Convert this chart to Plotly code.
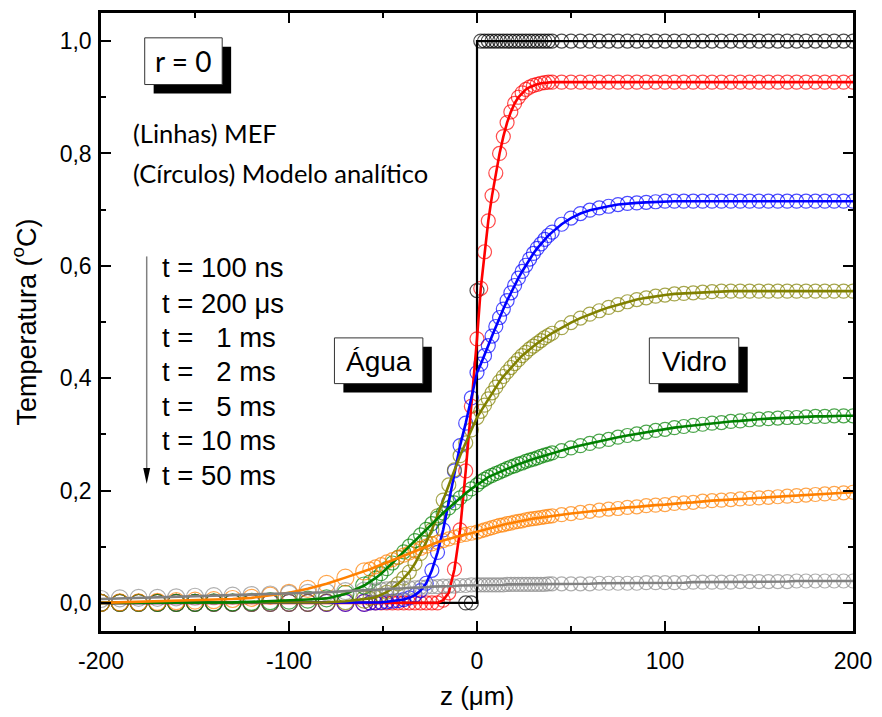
import plotly.graph_objects as go

# ---------------- data ----------------
Z_WATER = [-200, -190, -180, -170, -160, -150, -140, -130, -120, -110, -100, -90, -80, -70, -60,
           -57, -54, -51, -48, -45, -42, -39, -36, -33, -30, -27, -24, -21, -18, -15, -12, -9, -6, -3, 0]
Z_GLASS = [2, 4, 6, 8, 10, 12, 14, 16, 18, 20, 22, 24, 26, 28, 30, 32, 34, 36, 38, 40,
           45, 50, 55, 60, 65, 70, 75, 80, 85, 90, 95, 100, 105, 110, 115, 120, 125, 130, 135, 140,
           145, 150, 155, 160, 165, 170, 175, 180, 185, 190, 195, 200]

LABELS = ["t = 100 ns", "t = 200 μs", "t =   1 ms", "t =   2 ms", "t =   5 ms", "t = 10 ms", "t = 50 ms"]
X_TICKS = [-200, -100, 0, 100, 200]
X_TICKTEXT = ["-200", "-100", "0", "100", "200"]
Y_TICKS = [0, 0.2, 0.4, 0.6, 0.8, 1.0]

# t = 100 ns
BLACK_LINE_Z = [-200, 0, 0, 200]
BLACK_LINE_T = [0, 0, 1, 1]
BLACK_W = [None] * 32 + [0.0, 0.0, 0.556]
BLACK_G = [1.0] * 52

# t = 200 us
RED_W = [0] * 28 + [0.005, 0.018, 0.06, 0.13, 0.235, 0.35, 0.47]
RED_G = [0.56, 0.625, 0.68, 0.725, 0.765, 0.80, 0.83, 0.855, 0.874, 0.889, 0.90, 0.908, 0.914, 0.918,
         0.921, 0.923, 0.925, 0.926, 0.927, 0.927] + [0.927] * 32

# t = 1 ms
BLUE_W = [0] * 15 + [0, 0, 0.001, 0.002, 0.003, 0.004, 0.006, 0.009, 0.014, 0.022, 0.035, 0.058,
                     0.09, 0.13, 0.18, 0.235, 0.28, 0.32, 0.365, 0.41]
BLUE_G = [0.425, 0.44, 0.458, 0.475, 0.492, 0.508, 0.523, 0.538, 0.552, 0.565, 0.578, 0.59, 0.601,
          0.612, 0.622, 0.631, 0.639, 0.647, 0.654, 0.66, 0.674, 0.685, 0.693, 0.699, 0.703, 0.706,
          0.709, 0.711, 0.712, 0.713, 0.714] + [0.715] * 21

# t = 2 ms
OLIVE_W = [0] * 12 + [0.001, 0.003, 0.006, 0.008, 0.01, 0.014, 0.019, 0.026, 0.034, 0.044, 0.055,
                      0.07, 0.088, 0.108, 0.13, 0.155, 0.183, 0.21, 0.237, 0.262, 0.285, 0.308, 0.33]
OLIVE_G = [0.341, 0.352, 0.363, 0.374, 0.384, 0.394, 0.403, 0.411, 0.419, 0.426, 0.433, 0.44, 0.446,
           0.452, 0.457, 0.462, 0.467, 0.472, 0.476, 0.48, 0.49, 0.499, 0.507, 0.514, 0.52, 0.526,
           0.531, 0.536, 0.54, 0.543, 0.546, 0.548, 0.55, 0.551, 0.552, 0.553, 0.554] + [0.555] * 15

# t = 5 ms
GREEN_W = [0, 0, 0, 0, 0, 0, 0.001, 0.001, 0.002, 0.003, 0.004, 0.006, 0.008, 0.016, 0.031,
           0.037, 0.044, 0.052, 0.061, 0.071, 0.081, 0.091, 0.101, 0.111, 0.121, 0.131, 0.141,
           0.151, 0.16, 0.169, 0.178, 0.187, 0.195, 0.203, 0.21]
GREEN_G = [0.216, 0.22, 0.224, 0.227, 0.23, 0.233, 0.236, 0.239, 0.242, 0.244, 0.247, 0.249, 0.252,
           0.254, 0.256, 0.258, 0.261, 0.263, 0.265, 0.267, 0.271, 0.276, 0.28, 0.284, 0.288, 0.291,
           0.295, 0.298, 0.301, 0.304, 0.307, 0.309, 0.312, 0.314, 0.316, 0.318, 0.32, 0.321, 0.323,
           0.324, 0.326, 0.327, 0.328, 0.329, 0.33, 0.33, 0.331, 0.332, 0.332, 0.333, 0.333, 0.333]

# t = 10 ms
ORANGE_W = [0, 0.001, 0.001, 0.002, 0.003, 0.004, 0.005, 0.007, 0.009, 0.013, 0.018, 0.025, 0.034,
            0.045, 0.056, 0.06, 0.064, 0.068, 0.073, 0.077, 0.081, 0.085, 0.089, 0.093, 0.097, 0.101,
            0.105, 0.108, 0.111, 0.114, 0.117, 0.12, 0.122, 0.124, 0.126]
ORANGE_G = [0.128, 0.13, 0.132, 0.134, 0.136, 0.138, 0.139, 0.141, 0.142, 0.144, 0.145, 0.146, 0.148,
            0.149, 0.15, 0.151, 0.152, 0.153, 0.154, 0.155, 0.157, 0.159, 0.161, 0.163, 0.165, 0.167,
            0.168, 0.17, 0.171, 0.173, 0.174, 0.175, 0.177, 0.178, 0.179, 0.181, 0.182, 0.183, 0.184,
            0.185, 0.186, 0.187, 0.188, 0.189, 0.19, 0.191, 0.192, 0.193, 0.194, 0.195, 0.196, 0.197]

# t = 50 ms
GRAY_W = [0.007, 0.008, 0.009, 0.009, 0.01, 0.011, 0.012, 0.013, 0.014, 0.015, 0.016, 0.018, 0.019,
          0.021, 0.022, 0.023, 0.023, 0.024, 0.025, 0.025, 0.026, 0.026, 0.027, 0.027, 0.028, 0.028,
          0.029, 0.029, 0.03, 0.03, 0.03, 0.031, 0.031, 0.032, 0.032]
GRAY_G = [0.032, 0.032, 0.032, 0.032, 0.032, 0.032, 0.032, 0.033, 0.033, 0.033, 0.033, 0.033, 0.033,
          0.033, 0.033, 0.033, 0.033, 0.033, 0.034, 0.034, 0.034, 0.034, 0.034, 0.034, 0.035, 0.035,
          0.035, 0.035, 0.035, 0.036, 0.036, 0.036, 0.036, 0.036, 0.037, 0.037, 0.037, 0.037, 0.037,
          0.038, 0.038, 0.038, 0.038, 0.038, 0.038, 0.039, 0.039, 0.039, 0.039, 0.039, 0.039, 0.039]

SERIES = [
    ("black", "#000000", "#000000", BLACK_W, BLACK_G),
    ("red", "#FF0000", "#FF0000", RED_W, RED_G),
    ("blue", "#0000FF", "#0000FF", BLUE_W, BLUE_G),
    ("olive", "#808000", "#808000", OLIVE_W, OLIVE_G),
    ("green", "#008000", "#008000", GREEN_W, GREEN_G),
    ("orange", "#FF8000", "#FF8000", ORANGE_W, ORANGE_G),
    ("gray", "#808080", "#8C8C8C", GRAY_W, GRAY_G),
]

# ---------------- figure ----------------
Z_ALL = Z_WATER + Z_GLASS
sizes = [17 if z <= -60 else 14 for z in Z_ALL]

fig = go.Figure()
# analytical model (circles)
for name, lc, mc, tw, tg in SERIES:
    fig.add_trace(go.Scatter(x=Z_ALL, y=tw + tg, mode="markers", name=name,
                             marker=dict(symbol="circle-open", size=sizes, color=mc,
                                         line=dict(width=1.2, color=mc)),
                             hoverinfo="skip"))
# FEM (lines)
for name, lc, mc, tw, tg in SERIES:
    if name == "black":
        xs, ys, w = BLACK_LINE_Z, BLACK_LINE_T, 2.2
    else:
        xs, ys, w = Z_ALL, tw + tg, 2.6
    fig.add_trace(go.Scatter(x=xs, y=ys, mode="lines", line=dict(color=lc, width=w),
                             hoverinfo="skip"))

L, R, T, B = 101, 858, 10, 632


def px(x):
    return (x - L) / (R - L)


def py(y):
    return (B - y) / (B - T)


shapes = []


def shadow_box(x0, y0, x1, y1, off=9):
    shapes.append(dict(type="rect", xref="paper", yref="paper", x0=px(x0 + off), x1=px(x1 + off),
                       y0=py(y0 + off), y1=py(y1 + off), fillcolor="black", line=dict(width=0),
                       layer="above"))
    shapes.append(dict(type="rect", xref="paper", yref="paper", x0=px(x0), x1=px(x1),
                       y0=py(y0), y1=py(y1), fillcolor="white", line=dict(color="#333", width=1),
                       layer="above"))


shadow_box(145, 35, 223, 82)
shadow_box(336, 337, 425, 383)
shadow_box(653, 337, 743, 383)

# time arrow
shapes.append(dict(type="line", xref="paper", yref="paper", x0=px(147), x1=px(147),
                   y0=py(255), y1=py(472), line=dict(color="#808080", width=1.5)))
shapes.append(dict(type="path", xref="paper", yref="paper",
                   path=f"M {px(143.5)} {py(468)} L {px(150.5)} {py(468)} L {px(147)} {py(484)} Z",
                   fillcolor="black", line=dict(width=0)))

ann = []
ann.append(dict(text="r = 0", x=px(184), y=py(58), xref="paper", yref="paper", showarrow=False,
                font=dict(family="Lato", size=28, color="black"), xanchor="center", yanchor="middle"))
ann.append(dict(text="(Linhas) MEF", x=px(131), y=py(131), xref="paper", yref="paper", showarrow=False,
                font=dict(family="Lato", size=25.5, color="black"), xanchor="left", yanchor="middle"))
ann.append(dict(text="(Círculos) Modelo analítico", x=px(131), y=py(171), xref="paper", yref="paper",
                showarrow=False, font=dict(family="Lato", size=25.5, color="black"),
                xanchor="left", yanchor="middle"))
for lab, yy in zip(LABELS, [266, 302, 337, 371, 406, 440, 475]):
    ann.append(dict(text=lab.replace(" ", "&nbsp;"), x=px(160), y=py(yy), xref="paper", yref="paper",
                    showarrow=False, font=dict(family="Liberation Sans", size=27.5, color="black"),
                    xanchor="left", yanchor="middle"))
ann.append(dict(text="Água", x=px(380.5), y=py(361), xref="paper", yref="paper", showarrow=False,
                font=dict(family="Liberation Sans", size=28, color="black"), xanchor="center",
                yanchor="middle"))
ann.append(dict(text="Vidro", x=px(698), y=py(361), xref="paper", yref="paper", showarrow=False,
                font=dict(family="Liberation Sans", size=28, color="black"), xanchor="center",
                yanchor="middle"))

axis_common = dict(showline=True, linewidth=2.5, linecolor="black", mirror="allticks",
                   ticks="inside", ticklen=10, tickwidth=2, tickcolor="black",
                   showgrid=False, zeroline=False,
                   tickfont=dict(family="Liberation Sans", size=23, color="black"))

fig.update_layout(
    width=882, height=717,
    margin=dict(l=L, r=882 - R, t=T, b=717 - B),
    paper_bgcolor="white", plot_bgcolor="white",
    showlegend=False, separators=",.",
    font=dict(family="Liberation Sans", color="black"),
    shapes=shapes, annotations=ann,
    xaxis=dict(range=[-200, 200], tickvals=X_TICKS, ticktext=X_TICKTEXT, ticklabelstandoff=8,
               minor=dict(tickvals=[-150, -50, 50, 150], ticks="inside", ticklen=5, tickwidth=2,
                          tickcolor="black"),
               title=dict(text="z (μm)", font=dict(family="Liberation Sans", size=26), standoff=14),
               **axis_common),
    yaxis=dict(range=[-0.05, 1.05], tickvals=Y_TICKS, tickformat=".1f", ticklabelstandoff=2,
               minor=dict(tickvals=[0.1, 0.3, 0.5, 0.7, 0.9], ticks="inside", ticklen=5, tickwidth=2,
                          tickcolor="black"),
               title=dict(text="Temperatura (<sup>o</sup>C)", font=dict(family="Liberation Sans", size=27),
                          standoff=16),
               **axis_common),
)

fig.write_html("out.html")
